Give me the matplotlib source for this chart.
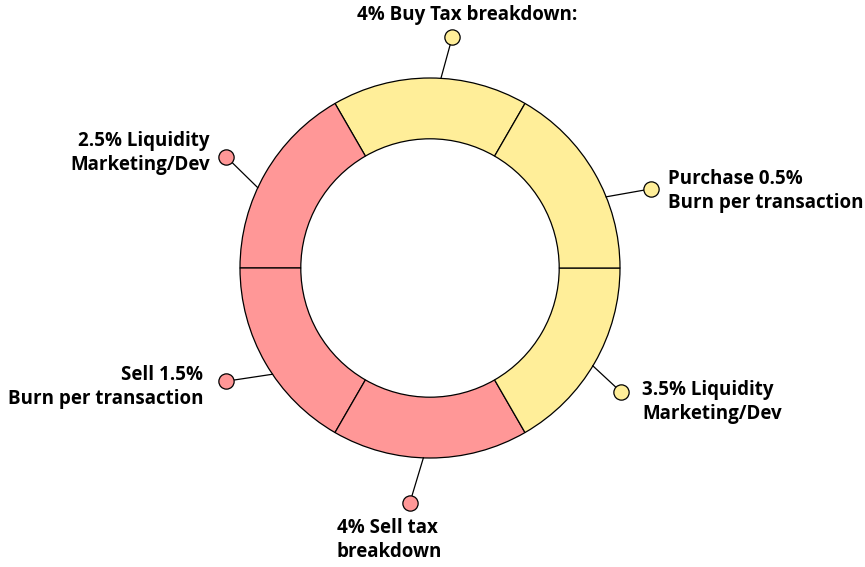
import numpy as np
import matplotlib.pyplot as plt

plt.rcParams['font.family'] = ['Open Sans', 'DejaVu Sans']

# segments, counter-clockwise from the top one
labels = ['4% Buy Tax breakdown:',
          '2.5% Liquidity\nMarketing/Dev',
          'Sell 1.5%\nBurn per transaction',
          '4% Sell tax\nbreakdown',
          '3.5% Liquidity\nMarketing/Dev',
          'Purchase 0.5%\nBurn per transaction']
values = [1, 1, 1, 1, 1, 1]
colors = ['#FFEE99', '#FF9797', '#FF9797', '#FF9797', '#FFEE99', '#FFEE99']

# leader line: start angle on ring, marker angle, marker radius
leaders = [(86.7, 84.5, 1.22), (155, 151.4, 1.22), (-146, -151, 1.23),
           (-92, -94.9, 1.24), (-31, -33, 1.20), (22, 19.7, 1.235)]
# text anchor in pixels (x, y from top), alignment
text_pos = [(467, 15, 'center', 'center'),
            (210, 153, 'right', 'right'),
            (203, 387, 'right', 'right'),
            (337, 540, 'left', 'left'),
            (642, 402, 'left', 'left'),
            (668, 191, 'left', 'left')]

W, H = 865, 567
cx, cy, R = 430, 268, 190

fig = plt.figure(figsize=(W / 100, H / 100), dpi=100)
ax = fig.add_axes([0, 0, 1, 1])
ax.pie(values, colors=colors, startangle=60, counterclock=True, radius=1,
       wedgeprops=dict(width=0.32, edgecolor='black', linewidth=0.9))
ax.set_xlim(-cx / R, (W - cx) / R)
ax.set_ylim(-(H - cy) / R, cy / R)
ax.set_aspect('equal')
ax.axis('off')


def px(x, y):
    return (x - cx) / R, (cy - y) / R


for lab, col, (a0, a1, r1), (tx, ty, ha, ma) in zip(labels, colors, leaders, text_pos):
    x0, y0 = np.cos(np.radians(a0)), np.sin(np.radians(a0))
    x1, y1 = r1 * np.cos(np.radians(a1)), r1 * np.sin(np.radians(a1))
    ax.plot([x0, x1], [y0, y1], color='black', lw=0.9, zorder=3)
    ax.plot(x1, y1, 'o', ms=11, mfc=col, mec='black', mew=0.9, zorder=4)
    ax.text(*px(tx, ty), lab, ha=ha, va='center', multialignment=ma,
            fontsize=13.5, fontweight='bold', linespacing=1.33)

fig.savefig('out.png', dpi=100)
